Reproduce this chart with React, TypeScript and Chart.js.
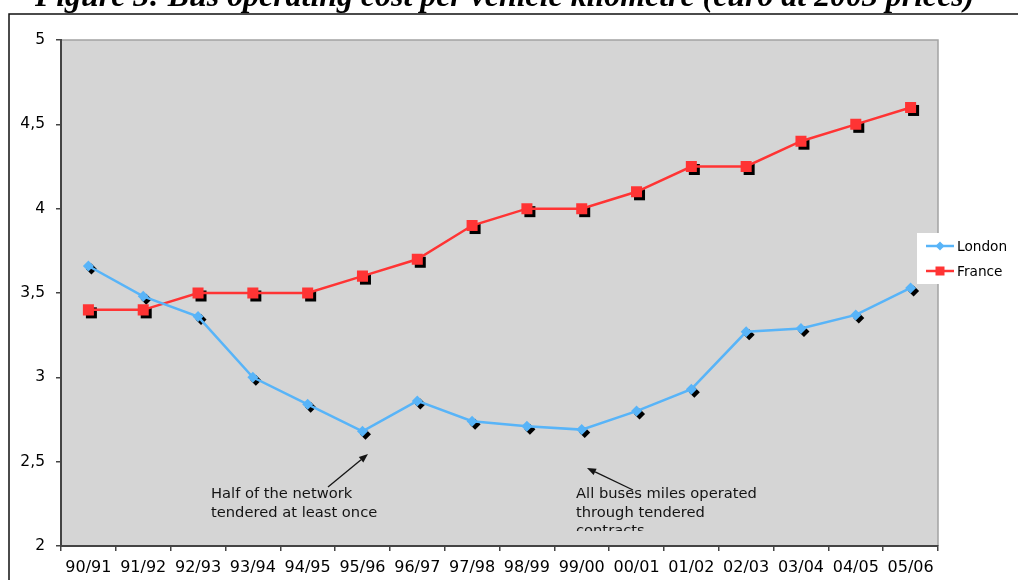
import React, { useEffect, useRef } from 'react';
import { Chart, registerables } from 'chart.js';

Chart.register(...registerables);

const periods = ['90/91', '91/92', '92/93', '93/94', '94/95', '95/96', '96/97', '97/98', '98/99', '99/00', '00/01', '01/02', '02/03', '03/04', '04/05', '05/06'];
const londonCost = [3.66, 3.48, 3.36, 3.0, 2.84, 2.68, 2.86, 2.74, 2.71, 2.69, 2.8, 2.93, 3.27, 3.29, 3.37, 3.53];
const franceCost = [3.4, 3.4, 3.5, 3.5, 3.5, 3.6, 3.7, 3.9, 4.0, 4.0, 4.1, 4.25, 4.25, 4.4, 4.5, 4.6];
const seriesNames = ['London', 'France'];

const TITLE = 'Figure 3: Bus operating cost per vehicle kilometre (euro at 2003 prices)';
const note1 = ['Half of the network', 'tendered at least once'];
const note2 = ['All buses miles operated', 'through tendered', 'contracts'];

const LONDON = 'rgb(88,180,248)';
const FRANCE = 'rgb(255,52,52)';
const FONT = '"DejaVu Sans", Verdana, sans-serif';

function diamond(ctx: CanvasRenderingContext2D, x: number, y: number, r: number) {
  ctx.beginPath();
  ctx.moveTo(x - r, y);
  ctx.lineTo(x, y - r);
  ctx.lineTo(x + r, y);
  ctx.lineTo(x, y + r);
  ctx.closePath();
  ctx.fill();
}
function square(ctx: CanvasRenderingContext2D, x: number, y: number, h: number) {
  ctx.fillRect(x - h, y - h, 2 * h, 2 * h);
}
function arrow(ctx: CanvasRenderingContext2D, x0: number, y0: number, x1: number, y1: number) {
  const a = Math.atan2(y1 - y0, x1 - x0);
  const L = 9, W = 3.5;
  const bx = x1 - L * Math.cos(a), by = y1 - L * Math.sin(a);
  ctx.beginPath();
  ctx.moveTo(x0, y0);
  ctx.lineTo(bx, by);
  ctx.stroke();
  ctx.beginPath();
  ctx.moveTo(x1, y1);
  ctx.lineTo(bx + W * Math.sin(a), by - W * Math.cos(a));
  ctx.lineTo(bx - W * Math.sin(a), by + W * Math.cos(a));
  ctx.closePath();
  ctx.fill();
}

const framePlugin = {
  id: 'frame',
  beforeDraw(chart: any) {
    const { ctx, chartArea: a } = chart;
    ctx.save();
    ctx.fillStyle = '#fff';
    ctx.fillRect(0, 0, chart.width, chart.height);
    // title
    ctx.fillStyle = '#000';
    ctx.font = 'bold italic 100px "Liberation Serif", "Times New Roman", serif';
    const w = ctx.measureText(TITLE).width;
    const size = (100 * 940) / w;
    ctx.font = `bold italic ${size}px "Liberation Serif", "Times New Roman", serif`;
    ctx.textAlign = 'left';
    ctx.textBaseline = 'alphabetic';
    ctx.fillText(TITLE, 35, 6);
    // outer frame
    ctx.strokeStyle = '#111';
    ctx.lineWidth = 1.5;
    ctx.beginPath();
    ctx.moveTo(9, chart.height + 2);
    ctx.lineTo(9, 14);
    ctx.lineTo(chart.width + 2, 14);
    ctx.stroke();
    // plot background
    ctx.fillStyle = '#d5d5d5';
    ctx.fillRect(a.left, a.top, a.right - a.left, a.bottom - a.top);
    ctx.strokeStyle = '#a3a3a3';
    ctx.lineWidth = 1.5;
    ctx.beginPath();
    ctx.moveTo(a.left, a.top);
    ctx.lineTo(a.right, a.top);
    ctx.lineTo(a.right, a.bottom);
    ctx.stroke();
    ctx.restore();
  },
  beforeDatasetsDraw(chart: any) {
    const { ctx } = chart;
    ctx.save();
    ctx.fillStyle = '#000';
    chart.data.datasets.forEach((ds: any, i: number) => {
      const meta = chart.getDatasetMeta(i);
      meta.data.forEach((pt: any) => {
        if (i === 0) diamond(ctx, pt.x + 3, pt.y + 3, 5.5);
        else square(ctx, pt.x + 3, pt.y + 3, 5.5);
      });
    });
    ctx.restore();
  },
  afterDraw(chart: any) {
    const { ctx } = chart;
    ctx.save();
    // annotations
    ctx.fillStyle = '#141414';
    ctx.strokeStyle = '#141414';
    ctx.lineWidth = 1.3;
    ctx.font = `14.7px ${FONT}`;
    ctx.textAlign = 'left';
    ctx.textBaseline = 'alphabetic';
    note1.forEach((t, i) => ctx.fillText(t, 211, 498 + i * 18.5));
    ctx.save();
    ctx.beginPath();
    ctx.rect(560, 470, 250, 61);
    ctx.clip();
    note2.forEach((t, i) => ctx.fillText(t, 576, 498 + i * 18.5));
    ctx.restore();
    arrow(ctx, 328, 487, 368, 454);
    arrow(ctx, 633, 490, 587, 468);

    // legend
    ctx.fillStyle = '#fff';
    ctx.fillRect(917, 233, 110, 51);
    ctx.font = `13.7px ${FONT}`;
    ctx.textBaseline = 'middle';
    const colors = [LONDON, FRANCE];
    seriesNames.forEach((name, i) => {
      const y = 246 + i * 25;
      ctx.strokeStyle = colors[i];
      ctx.fillStyle = colors[i];
      ctx.lineWidth = 2.5;
      ctx.beginPath();
      ctx.moveTo(926, y);
      ctx.lineTo(954, y);
      ctx.stroke();
      if (i === 0) diamond(ctx, 940, y, 4.5);
      else square(ctx, 940, y, 4.5);
      ctx.fillStyle = '#000';
      ctx.fillText(name, 957, y + 1);
    });
    ctx.restore();
  },
};

export default function App() {
  const ref = useRef<HTMLCanvasElement | null>(null);
  useEffect(() => {
    if (!ref.current) return;
    const chart = new Chart(ref.current, {
      type: 'line',
      data: {
        labels: periods,
        datasets: [
          {
            label: seriesNames[0],
            data: londonCost,
            borderColor: LONDON,
            backgroundColor: LONDON,
            borderWidth: 2.5,
            pointStyle: 'rectRot',
            pointRadius: 5.5,
            pointBorderWidth: 0,
            tension: 0,
          },
          {
            label: seriesNames[1],
            data: franceCost,
            borderColor: FRANCE,
            backgroundColor: FRANCE,
            borderWidth: 2.5,
            pointStyle: 'rect',
            pointRadius: 7.8,
            pointBorderWidth: 0,
            tension: 0,
          },
        ],
      },
      options: {
        responsive: false,
        animation: false,
        devicePixelRatio: 1,
        layout: { padding: { top: 40, right: 80, left: 0, bottom: 0 } },
        plugins: { legend: { display: false }, tooltip: { enabled: false }, title: { display: false } },
        scales: {
          x: {
            type: 'category',
            offset: true,
            afterFit: (s: any) => { s.height = 34; },
            grid: { offset: true, drawOnChartArea: false, tickLength: 5, color: '#444', lineWidth: 1.5 },
            border: { display: true, color: '#444', width: 2 },
            ticks: { color: '#000', font: { family: FONT, size: 16 }, padding: 7, maxRotation: 0, autoSkip: false },
          },
          y: {
            min: 2,
            max: 5,
            afterFit: (s: any) => { s.width = 61; },
            grid: { drawOnChartArea: false, tickLength: 5, color: '#444', lineWidth: 1.5 },
            border: { display: true, color: '#444', width: 2 },
            ticks: {
              stepSize: 0.5,
              color: '#000',
              font: { family: FONT, size: 15.5 },
              padding: 11,
              callback: (v: any) => String(v).replace('.', ','),
            },
          },
        },
      },
      plugins: [framePlugin],
    });
    return () => chart.destroy();
  }, []);
  return (
    <div style={{ position: 'fixed', left: 0, top: 0, width: 1018, height: 580 }}>
      <canvas ref={ref} width={1018} height={580} style={{ width: 1018, height: 580 }} />
    </div>
  );
}
